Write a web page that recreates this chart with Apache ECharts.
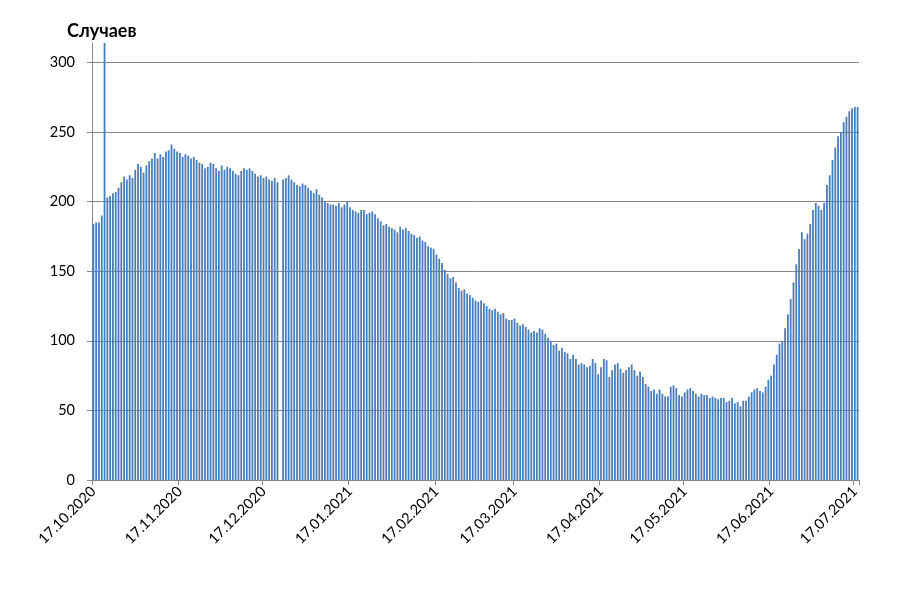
<!DOCTYPE html>
<html>
<head>
<meta charset="utf-8">
<script src="https://cdn.jsdelivr.net/npm/echarts/dist/echarts.min.js"></script>
<style>
  html, body { margin: 0; padding: 0; background: #fff; }
  #chart { width: 900px; height: 600px; }
</style>
</head>
<body>
<div id="chart"></div>
<script>
// Daily case counts, 17.10.2020 - 18.07.2021 (null = no data that day)
const startDate = [2020, 10, 17];
const oct2020 = [184,185,185,190,320,203,204,206,207,210,214,218,216,219,217];
const nov2020 = [223,227,225,221,226,229,231,235,231,234,232,236,237,241,238,236,235,232,234,233,231,232,230,228,227,224,225,228,227,224];
const dec2020 = [222,226,223,225,224,222,220,219,222,224,223,224,222,220,218,219,217,218,216,215,217,214,null,216,217,219,216,214,212,211,213];
const jan2021 = [212,210,208,206,209,205,203,200,199,198,198,197,199,196,198,200,196,194,193,192,194,194,191,192,193,191,188,186,183,184,182];
const feb2021 = [181,180,178,182,180,181,179,177,176,174,175,172,171,168,167,166,162,159,156,151,148,145,146,142,138,136,137,134];
const mar2021 = [133,131,129,128,129,127,125,123,122,123,121,119,120,116,115,115,116,113,111,112,110,108,106,107,106,109,108,105,102,100,97];
const apr2021 = [98,93,95,92,91,87,90,87,83,84,83,81,82,87,84,76,81,87,86,74,79,83,84,80,77,79,81,83,79,75];
const may2021 = [78,74,69,67,64,65,62,65,62,60,60,67,68,66,61,60,63,65,66,64,62,60,62,61,61,59,60,59,58,59,59];
const jun2021 = [56,57,59,55,56,53,57,57,60,63,65,66,64,63,67,72,75,83,90,98,100,109,119,130,142,155,166,178,173,177];
const jul2021 = [184,194,199,197,194,199,212,219,230,239,247,250,257,261,265,267,268,268];
const yTicks = [0, 50, 100, 150, 200, 250, 300];
const yTitle = 'Случаев';

const cases = [].concat(oct2020, nov2020, dec2020, jan2021, feb2021, mar2021, apr2021, may2021, jun2021, jul2021);
const pad = n => (n < 10 ? '0' : '') + n;
const days = [];
for (let i = 0; i < cases.length; i++) {
  const d = new Date(Date.UTC(startDate[0], startDate[1] - 1, startDate[2] + i));
  days.push(pad(d.getUTCDate()) + '.' + pad(d.getUTCMonth() + 1) + '.' + d.getUTCFullYear());
}
const isTickDay = (idx, val) => val.slice(0, 3) === '17.';

const chart = echarts.init(document.getElementById('chart'), null, { renderer: 'canvas' });
chart.setOption({
  animation: false,
  backgroundColor: '#ffffff',
  textStyle: { fontFamily: 'Lato' },
  title: {
    text: yTitle,
    left: 62, top: 17,
    textStyle: { fontFamily: 'Lato', fontSize: 18, fontWeight: 'bold', color: '#000' }
  },
  grid: { left: 92, right: 41, top: 43, bottom: 120, containLabel: false },
  xAxis: {
    type: 'category',
    data: days,
    boundaryGap: true,
    axisLine: { show: true, lineStyle: { color: '#868686', width: 1 } },
    axisTick: { show: true, interval: isTickDay, length: 5, lineStyle: { color: '#868686' } },
    axisLabel: {
      interval: isTickDay, rotate: 45, margin: 9,
      fontFamily: 'Lato', fontSize: 14.5, color: '#000'
    },
    splitLine: { show: false }
  },
  yAxis: {
    type: 'value',
    min: 0, max: 314, interval: 50,
    axisLine: { show: true, lineStyle: { color: '#868686', width: 1 } },
    axisTick: { show: true, length: 5, customValues: yTicks, lineStyle: { color: '#868686' } },
    axisLabel: { customValues: yTicks, margin: 17, fontFamily: 'Lato', fontSize: 14.5, color: '#000' },
    splitLine: { show: true, lineStyle: { color: '#868686', width: 1 } }
  },
  series: [{
    type: 'bar',
    data: cases,
    barWidth: 1.8,
    clip: true,
    itemStyle: { color: '#4A7EBB' }
  }]
});
</script>
</body>
</html>
